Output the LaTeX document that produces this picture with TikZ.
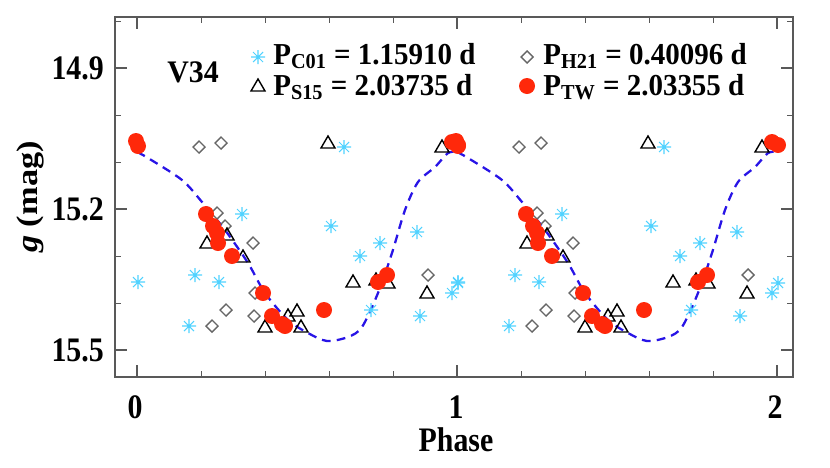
\documentclass[tikz,border=0pt]{standalone}
\usepackage{fontspec}
\setmainfont{Liberation Serif}
\definecolor{tw}{RGB}{255,40,10}
\definecolor{cz}{RGB}{80,210,255}
\definecolor{fit}{RGB}{40,20,230}
\newcommand{\mast}[1]{\draw[cz,semithick] (#1) +(-7,0) -- +(7,0) +(0,-7) -- +(0,7) +(-5,-5) -- +(5,5) +(-5,5) -- +(5,-5);}
\newcommand{\mdia}[1]{\draw[gray!80!black,thick] (#1) +(-6,0) -- +(0,-6) -- +(6,0) -- +(0,6) -- cycle;}
\newcommand{\mtri}[1]{\draw[black,thick] (#1) +(-7,5) -- +(7,5) -- +(0,-7) -- cycle;}
\newcommand{\mdot}[1]{\fill[tw] (#1) circle (8);}
\begin{document}
\begin{tikzpicture}[x=0.02cm,y=-0.02cm,font=\bfseries,
  ticklab/.style={font=\fontsize{17}{17}\bfseries\selectfont,yscale=1.15},
  leg/.style={anchor=west,font=\fontsize{16.5}{16.5}\bfseries\selectfont,inner sep=0pt,yscale=1.05}]
\useasboundingbox (0,0) rectangle (830,467);
% frame and ticks
\draw[gray!70!black,thick] (115,17) rectangle (793,377);
\foreach \p in {0,1,2} {
  \draw[gray!70!black,thick] (137+320*\p,377) -- ++(0,-12) (137+320*\p,17) -- ++(0,12);
}
\foreach \p in {1,2,3,4,6,7,8,9} {
  \draw[gray!70!black] (137+64*\p,377) -- ++(0,-6) (137+64*\p,17) -- ++(0,6);
}
\foreach \m in {68,209,350} {
  \draw[gray!70!black,thick] (115,\m) -- ++(12,0) (793,\m) -- ++(-12,0);
}
\foreach \m in {21,115,162,256,303} {
  \draw[gray!70!black] (115,\m) -- ++(6,0) (793,\m) -- ++(-6,0);
}
\node[ticklab,anchor=east] (y149) at (110,68) {14.9};
\node[ticklab,anchor=east] (y152) at (110,209) {15.2};
\node[ticklab,anchor=east] (y155) at (110,350) {15.5};
\node[ticklab] (x0) at (135,407) {0};
\node[ticklab] (x1) at (456,407) {1};
\node[ticklab] (x2) at (775,407) {2};
\node[ticklab] (xlab) at (456,440) {Phase};
\node[ticklab,rotate=90] (ylab) at (30,197) {\itshape g\upshape\ (mag)};
% fitted curve
\foreach \s in {0,320} {
\draw[fit,line width=1.3pt,dash pattern=on 5pt off 3.5pt,xshift=\s*0.02cm] plot[smooth] coordinates {(137,152) (148,158) (182,180) (202,202) (225,230) (248,263) (265,293) (288,320) (308,333) (327,341) (348,337) (362,327) (378,293) (392,253) (405,210) (418,182) (435,167) (448,153) (457,152)};
}
% data
\foreach \s in {0,320} {
\begin{scope}[xshift=\s*0.02cm]
\foreach \c in {{138,282},{195,275},{219,282},{189,326},{242,214},{344,147},{331,226},{380,243},{360,256},{417,232},{371,310},{420,316},{452,293},{458,283}} {\mast{\c}}
\foreach \c in {{199,147},{221,143},{217,213},{225,226},{253,243},{255,293},{226,310},{212,326},{254,316},{428,275}} {\mdia{\c}}
\foreach \c in {{328,143},{442,147},{207,243},{227,235},{243,257},{353,282},{388,283},{427,293},{265,327},{288,316},{297,311},{301,327},{376,280}} {\mtri{\c}}
\foreach \c in {{136,141},{138,146},{206,214},{213,226},{217,233},{218,243},{232,256},{263,293},{272,316},{282,324},{285,326},{324,310},{378,282},{387,275},{452,142},{458,145}} {\mdot{\c}}
\end{scope}
}
% legend
\node[leg,font=\fontsize{17}{17}\bfseries\selectfont] (name) at (167,72) {V34};
\mast{258,57}
\mtri{258,86}
\mdia{527,57}
\mdot{527,86}
\node[leg] (lc) at (273,56) {P\textsubscript{C01} = 1.15910 d};
\node[leg] (ls) at (273,87) {P\textsubscript{S15} = 2.03735 d};
\node[leg] (lh) at (543,56) {P\textsubscript{H21} = 0.40096 d};
\node[leg] (lt) at (543,87) {P\textsubscript{TW} = 2.03355 d};
\end{tikzpicture}
\end{document}
